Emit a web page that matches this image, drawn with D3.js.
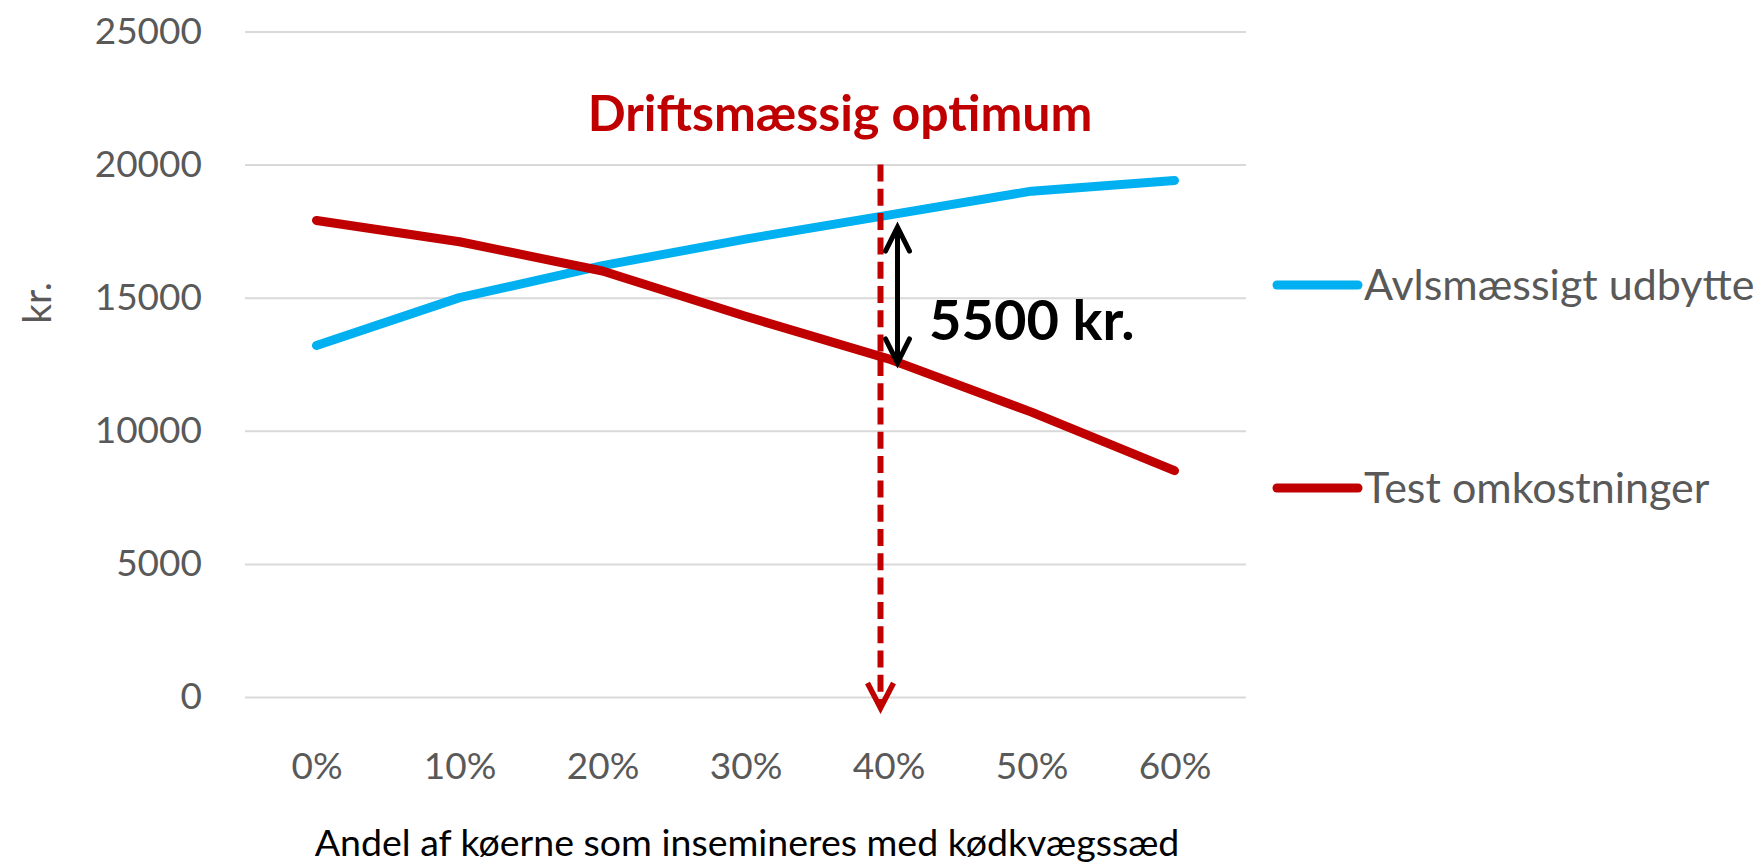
<!DOCTYPE html>
<html><head><meta charset="utf-8">
<script src="https://cdn.jsdelivr.net/npm/d3@7"></script>
<style>body{margin:0;background:#fff;} svg{display:block;}</style>
</head><body>
<svg id="chart" width="1760" height="865"></svg>
<script>
const categories = ["0%","10%","20%","30%","40%","50%","60%"];
const avlsUdbytte = [13200,15000,16200,17200,18100,19000,19400];
const testOmkostninger = [17900,17100,16000,14300,12700,10700,8500];
const yTicks = [0,5000,10000,15000,20000,25000];
const seriesNames = ["Avlsmæssigt udbytte","Test omkostninger"];
const seriesColors = ["#00B0F0","#C00000"];
const optimumCategory = "40%";
const optimumLabel = "Driftsmæssig optimum";
const gapLabel = "5500 kr.";
const xTitle = "Andel af køerne som insemineres med kødkvægssæd";
const yTitle = "kr.";

const FONT = "Lato, 'Open Sans', sans-serif";
const svg = d3.select("#chart");
const L = 245, R = 1246, T = 31.4, B = 697;

const x = d3.scalePoint().domain(categories).range([L, R]).padding(0.5);
const y = d3.scaleLinear().domain([0, 25000]).range([B, T]);

// gridlines + y labels
const gy = svg.append("g").attr("transform", `translate(${L},0)`)
  .call(d3.axisLeft(y).tickValues(yTicks).tickSize(-(R - L)).tickPadding(43).tickFormat(d3.format("d")));
gy.select(".domain").remove();
gy.selectAll(".tick line").attr("stroke", "#D9D9D9").attr("stroke-width", 2);
gy.selectAll(".tick text").attr("fill", "#595959").attr("font-family", FONT).attr("font-size", 37);

// x labels
const gx = svg.append("g").attr("transform", `translate(0,${B})`)
  .call(d3.axisBottom(x).tickSize(0).tickPadding(56));
gx.select(".domain").remove();
gx.selectAll(".tick text").attr("fill", "#595959").attr("font-family", FONT).attr("font-size", 37);

// axis titles
svg.append("text").attr("transform", "translate(51,303) rotate(-90)")
  .attr("text-anchor", "middle").attr("fill", "#595959")
  .attr("font-family", FONT).attr("font-size", 39).text(yTitle);
svg.append("text").attr("x", 747).attr("y", 856)
  .attr("text-anchor", "middle").attr("fill", "#000")
  .attr("font-family", FONT).attr("font-size", 37.5).text(xTitle);

// series
const line = d3.line().x((d, i) => x(categories[i])).y(d => y(d));
[avlsUdbytte, testOmkostninger].forEach((s, k) => {
  svg.append("path").datum(s).attr("d", line)
    .attr("fill", "none").attr("stroke", seriesColors[k]).attr("stroke-width", 9)
    .attr("stroke-linecap", "round").attr("stroke-linejoin", "round");
});

// legend
const legendY = [285, 488];
seriesNames.forEach((n, k) => {
  svg.append("line").attr("x1", 1277).attr("x2", 1358).attr("y1", legendY[k]).attr("y2", legendY[k])
    .attr("stroke", seriesColors[k]).attr("stroke-width", 9).attr("stroke-linecap", "round");
  svg.append("text").attr("x", 1364).attr("y", legendY[k] + 15)
    .attr("fill", "#595959").attr("font-family", FONT).attr("font-size", 43).text(n);
});

// optimum annotation
const oi = categories.indexOf(optimumCategory);
const ox = x(optimumCategory) - 8;
svg.append("line").attr("x1", ox).attr("x2", ox).attr("y1", y(20000)).attr("y2", B + 8)
  .attr("stroke", "#C00000").attr("stroke-width", 6).attr("stroke-dasharray", "17,7.3");
svg.append("path").attr("d", `M${ox - 13},${B - 14} L${ox},${B + 11} L${ox + 13},${B - 14}`)
  .attr("fill", "none").attr("stroke", "#C00000").attr("stroke-width", 5.5);
svg.append("text").attr("x", 840).attr("y", 131).attr("text-anchor", "middle")
  .attr("fill", "#C00000").attr("font-family", FONT).attr("font-weight", "bold")
  .attr("font-size", 50).text(optimumLabel);

// gap arrow
const ax = x(optimumCategory) + 9;
const y1 = y(avlsUdbytte[oi]) + 12, y2 = y(testOmkostninger[oi]) + 4;
svg.append("line").attr("x1", ax).attr("x2", ax).attr("y1", y1).attr("y2", y2)
  .attr("stroke", "#000").attr("stroke-width", 5);
svg.append("path").attr("d", `M${ax - 12},${y1 + 24} L${ax},${y1} L${ax + 12},${y1 + 24}`)
  .attr("fill", "none").attr("stroke", "#000").attr("stroke-width", 5).attr("stroke-linecap", "round");
svg.append("path").attr("d", `M${ax - 12},${y2 - 24} L${ax},${y2} L${ax + 12},${y2 - 24}`)
  .attr("fill", "none").attr("stroke", "#000").attr("stroke-width", 5).attr("stroke-linecap", "round");
svg.append("text").attr("x", 929).attr("y", 340)
  .attr("fill", "#000").attr("font-family", FONT).attr("font-weight", "bold")
  .attr("font-size", 56).text(gapLabel);
</script>
</body></html>
